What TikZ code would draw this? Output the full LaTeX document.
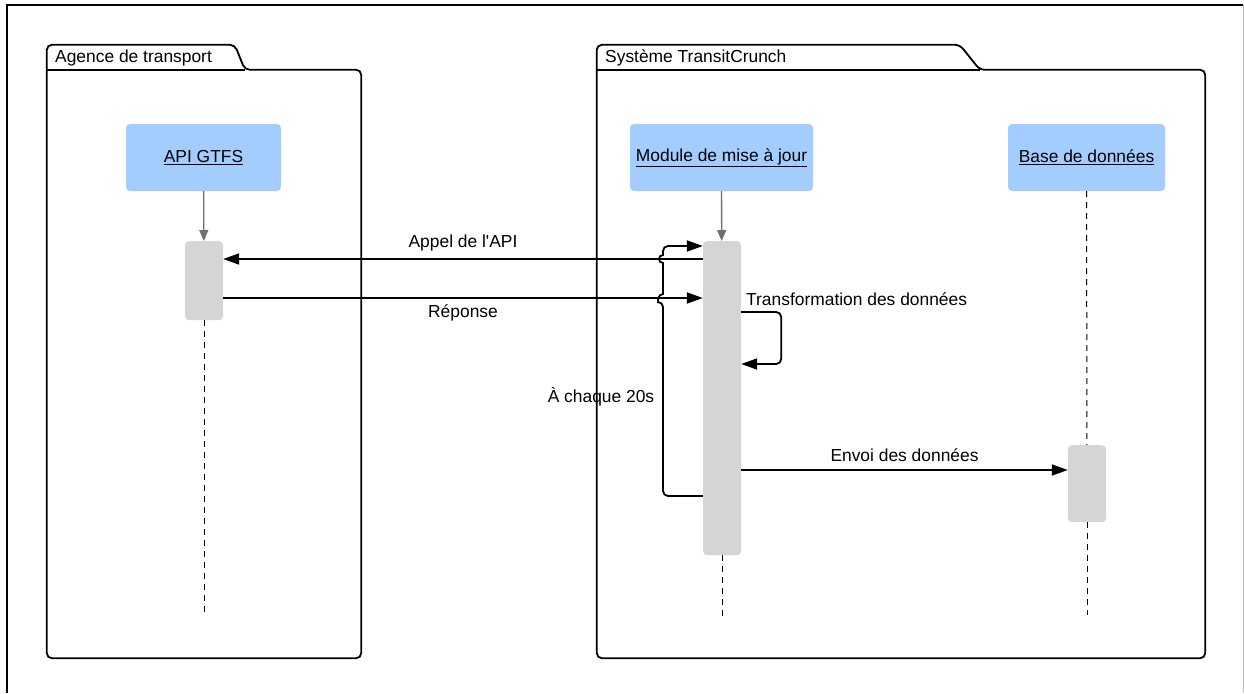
\documentclass[tikz,border=0pt]{standalone}
\usepackage{fontspec}
\setmainfont{Liberation Sans}
\usetikzlibrary{arrows.meta,positioning,calc}
\definecolor{headblue}{RGB}{164,205,255}
\definecolor{actgray}{RGB}{213,213,213}
\definecolor{lifegray}{RGB}{112,112,112}
\newcommand{\fs}{\fontsize{17.4}{20}\selectfont}

\begin{document}
\begin{tikzpicture}[x=1pt, y=-1pt,
  frame/.style={draw, line width=1.8pt, rounded corners=5pt},
  pkg/.style={minimum width=#1, minimum height=588pt, inner sep=0pt},
  head/.style={fill=headblue, rounded corners=4pt, minimum width=#1,
               minimum height=67pt, inner sep=0pt, font=\fs},
  act/.style={fill=actgray, rounded corners=4pt, minimum width=38pt,
              minimum height=#1, inner sep=0pt, anchor=north},
  msg/.style={-{Triangle[length=16pt,width=11pt]}, line width=1.8pt},
  life/.style={-{Triangle[length=11pt,width=9pt]}, lifegray, line width=1.3pt},
  dotline/.style={dash pattern=on 6pt off 5pt, line width=1pt},
  lbl/.style={font=\fs, inner sep=0pt}
]
  \useasboundingbox (0,0) rectangle (1244,693);
  % outer border
  \draw[line width=1.8pt] (7,693) -- (7,5) -- (1243,5);
  \draw[black!25, line width=1pt] (1243,5) -- (1243,693);

  % packages
  \node[pkg=314pt] (agence) at (204,364) {};
  \draw[frame] (agence.north west) -- ++(0,-25) -- ++(188,0) -- ++(10,25)
    -- (agence.north east) -- (agence.south east) -- (agence.south west) -- cycle;
  \draw[frame] (agence.north west) -- ++(198,0);
  \node[lbl, anchor=base west] (agencetitle) at (55,63) {Agence de transport};

  \node[pkg=608pt] (systeme) at (901,364) {};
  \draw[frame] (systeme.north west) -- ++(0,-25) -- ++(363,0) -- ++(20,25)
    -- (systeme.north east) -- (systeme.south east) -- (systeme.south west) -- cycle;
  \draw[frame] (systeme.north west) -- ++(383,0);
  \node[lbl, anchor=base west] (systemetitle) at (605,63) {Système TransitCrunch};

  % lifeline heads
  \node[head=155pt] (api) at (203.5,157.5) {\underline{API GTFS}};
  \node[head=183pt] (module) at (721.5,157.5) {\underline{Module de mise à jour}};
  \node[head=157pt] (base) at (1086.5,157.5) {\underline{Base de données}};

  % activations
  \node[act=79pt] (apiact) at (204,241) {};
  \node[act=314pt] (modact) at (722,241) {};
  \node[act=77pt] (baseact) at (1087,445) {};

  \coordinate (apiend) at (204,615);
  \coordinate (modend) at (722,620);
  \coordinate (baseend) at (1087,615);

  \draw[life] (api) -- (apiact);
  \draw[life] (module) -- (modact);
  \draw[dotline] (base) -- (baseact);
  \draw[dotline] (apiact) -- (apiend);
  \draw[dotline] (modact) -- (modend);
  \draw[dotline] (baseact) -- (baseend);

  % message levels
  \coordinate (yloopin) at (0,246);
  \coordinate (yappel) at (0,259);
  \coordinate (yrep) at (0,298);
  \coordinate (ytrans) at (0,312);
  \coordinate (yback) at (0,364);
  \coordinate (yenvoi) at (0,470);
  \coordinate (yloop) at (0,496);

  \draw[msg] (modact.west |- yappel) -- node[lbl, above=7pt] {Appel de l\textquotesingle API} (apiact.east |- yappel);
  \draw[msg] (apiact.east |- yrep) -- node[lbl, below=6pt] {Réponse} (modact.west |- yrep);
  \draw[msg, rounded corners=5pt] (modact.east |- ytrans) -- ++(40,0) |- (modact.east |- yback);
  \node[lbl, anchor=base west] (translbl) at (746,305) {Transformation des données};
  \draw[msg] (modact.east |- yenvoi) -- node[lbl, above=7pt] {Envoi des données} (baseact.west |- yenvoi);

  % loop
  \draw[msg, rounded corners=5pt] (modact.west |- yloop) -- (663,496) -- (663,302)
    [sharp corners] .. controls (657.7,302) and (657.7,294) .. (663,294)
    -- (663,263) .. controls (657.7,263) and (657.7,255) .. (663,255)
    [rounded corners=5pt] -- (663,246) -- (modact.west |- yloopin);
  \node[lbl] (looplbl) at (601,397) {À chaque 20s};
\end{tikzpicture}
\end{document}
